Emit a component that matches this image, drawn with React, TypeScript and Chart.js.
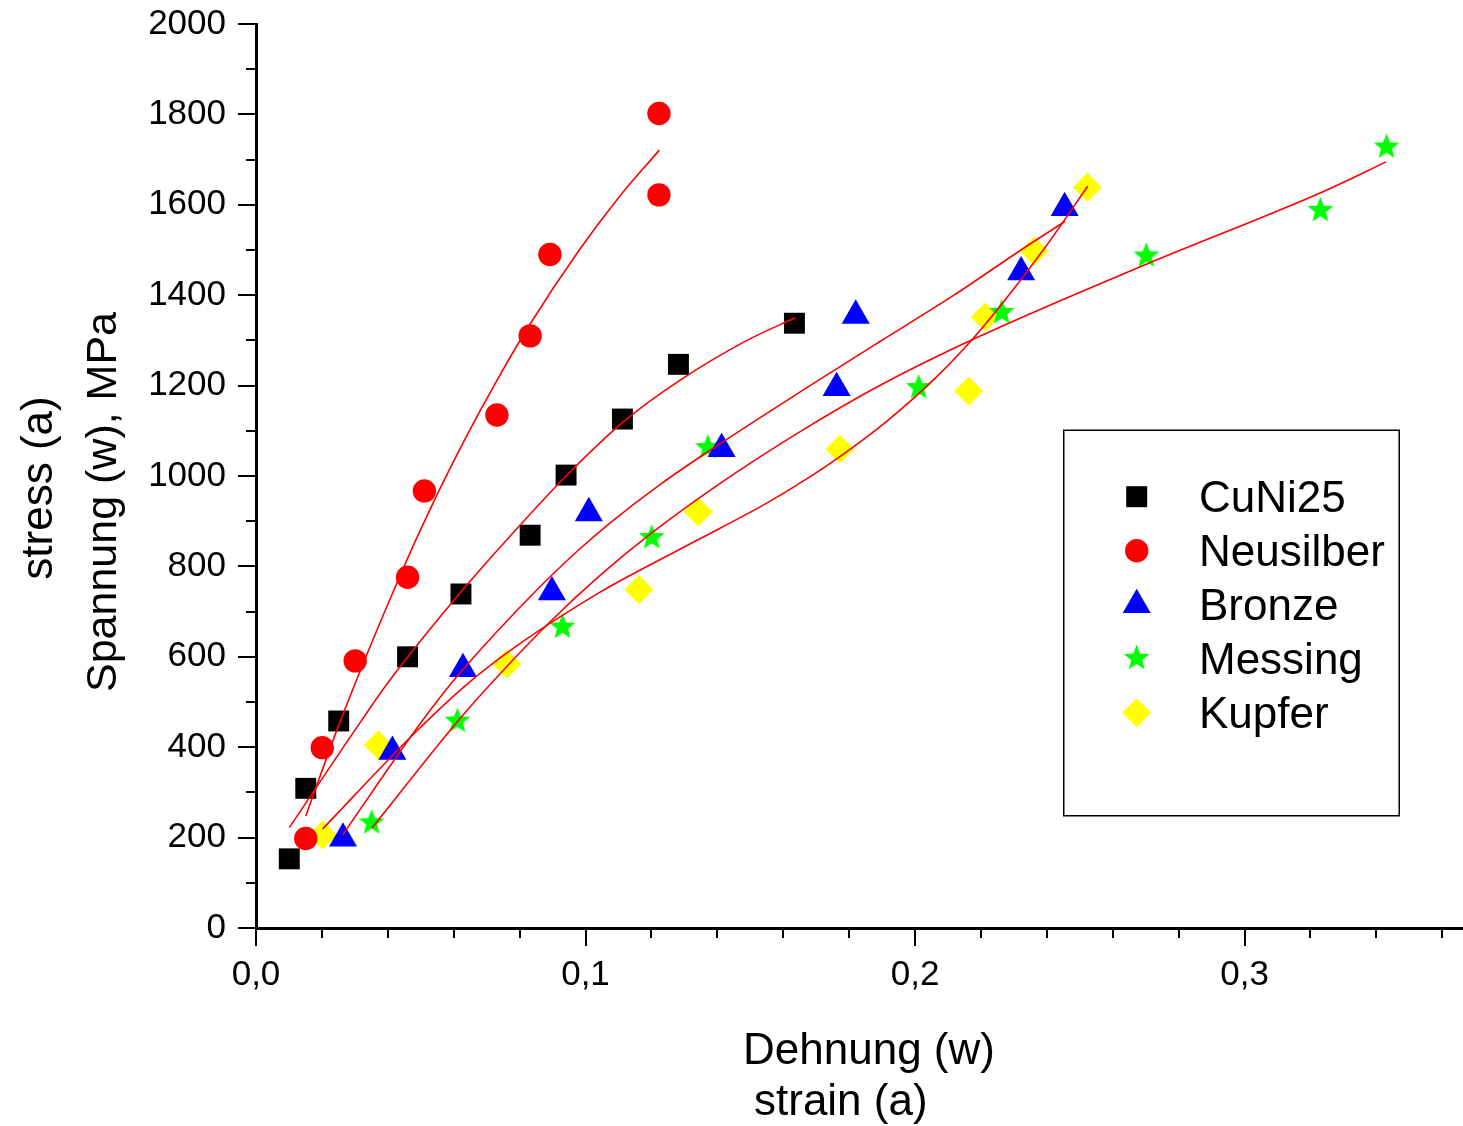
import React, { useEffect, useRef } from 'react';
import { Chart, registerables } from 'chart.js';

Chart.register(...registerables);

// ---------- measured data (strain, stress MPa) ----------
const cuni25Strain = [0.0101, 0.0151, 0.0251, 0.046, 0.0622, 0.0832, 0.0941, 0.1112, 0.1282, 0.1634];
const cuni25Stress = [153, 309, 458, 600, 739, 869, 1002, 1126, 1247, 1338];

const neusilberStrain = [0.0151, 0.0201, 0.0301, 0.046, 0.0511, 0.0731, 0.0832, 0.0892, 0.1223, 0.1223];
const neusilberStress = [198, 399, 591, 776, 967, 1135, 1310, 1490, 1622, 1802];

const bronzeStrain = [0.0264, 0.0414, 0.0628, 0.0898, 0.101, 0.1413, 0.1762, 0.182, 0.2322, 0.2454];
const bronzeStress = [198, 390, 573, 743, 918, 1060, 1195, 1355, 1451, 1593];

const messingStrain = [0.0351, 0.0611, 0.093, 0.1201, 0.1371, 0.2011, 0.2263, 0.2702, 0.323, 0.3431];
const messingStress = [235, 460, 668, 866, 1065, 1198, 1364, 1489, 1590, 1730];

const kupferStrain = [0.0202, 0.0371, 0.0761, 0.1162, 0.1342, 0.1772, 0.2163, 0.2213, 0.2362, 0.2523];
const kupferStress = [206, 405, 584, 749, 921, 1059, 1188, 1352, 1498, 1639];

// ---------- fit curves ----------
const cuni25FitStrain = [0.0101, 0.0321, 0.0407, 0.0619, 0.0775, 0.0941, 0.1112, 0.1287, 0.149, 0.1636];
const cuni25FitStress = [222, 460, 549, 741, 870, 1000, 1118, 1212, 1300, 1350];

const neusilberFitStrain = [0.0151, 0.0255, 0.0435, 0.0538, 0.0639, 0.073, 0.083, 0.098, 0.1105, 0.1224];
const neusilberFitStress = [248, 456, 776, 941, 1088, 1210, 1334, 1499, 1620, 1721];

const bronzeFitStrain = [0.0263, 0.0477, 0.0599, 0.0832, 0.0983, 0.1074, 0.1226, 0.1378, 0.1686, 0.189, 0.2118, 0.2342, 0.2455];
const bronzeFitStress = [206, 431, 547, 733, 839, 896, 981, 1057, 1202, 1296, 1400, 1510, 1563];

const messingFitStrain = [0.0352, 0.0614, 0.0726, 0.0892, 0.1044, 0.1201, 0.1403, 0.166, 0.189, 0.2196, 0.27, 0.3238, 0.343];
const messingFitStress = [221, 459, 551, 677, 780, 874, 981, 1102, 1199, 1309, 1468, 1629, 1695];

const kupferFitStrain = [0.0202, 0.0477, 0.064, 0.0791, 0.1044, 0.1135, 0.1347, 0.155, 0.167, 0.1772, 0.1914, 0.2066, 0.2196, 0.2398, 0.2524];
const kupferFitStress = [219, 428, 539, 624, 743, 780, 861, 940, 993, 1043, 1121, 1220, 1321, 1509, 1641];

const seriesNames = ['CuNi25', 'Neusilber', 'Bronze', 'Messing', 'Kupfer'];
const seriesColors = ['#000000', '#ff0000', '#0000ff', '#00ff00', '#ffff00'];

const xTickStep = 0.1;
const xMinorStep = 0.02;
const yTickStep = 200;
const yMinorStep = 100;
const xMax = 0.3663;
const yMax = 2000;

const xTitleLines = ['Dehnung (w)', 'strain (a)'];
const yTitleLines = ['stress (a)', 'Spannung (w), MPa'];

const FONT = "'Liberation Sans', Arial, sans-serif";

function pts(xs: number[], ys: number[]) {
  return xs.map((x, i) => ({ x, y: ys[i] }));
}

function drawStarPath(g: CanvasRenderingContext2D, cx: number, cy: number, outer: number, inner: number) {
  g.beginPath();
  for (let i = 0; i < 10; i++) {
    const r = i % 2 === 0 ? outer : inner;
    const a = -Math.PI / 2 + (i * Math.PI) / 5;
    const px = cx + r * Math.cos(a);
    const py = cy + r * Math.sin(a);
    if (i === 0) g.moveTo(px, py);
    else g.lineTo(px, py);
  }
  g.closePath();
}

function makeStar(outer: number, inner: number, color: string) {
  const c = document.createElement('canvas');
  const s = Math.ceil(outer * 2 + 2);
  c.width = s;
  c.height = s;
  const g = c.getContext('2d')!;
  drawStarPath(g, s / 2, s / 2 + 1, outer, inner);
  g.fillStyle = color;
  g.fill();
  return c;
}

function drawMarker(g: CanvasRenderingContext2D, kind: number, x: number, y: number, color: string) {
  g.fillStyle = color;
  g.beginPath();
  if (kind === 0) {
    g.rect(x - 10.5, y - 10.5, 21, 21);
  } else if (kind === 1) {
    g.arc(x, y, 11.7, 0, Math.PI * 2);
  } else if (kind === 2) {
    const r = 16.2;
    for (let i = 0; i < 3; i++) {
      const a = -Math.PI / 2 + (i * 2 * Math.PI) / 3;
      const px = x + r * Math.cos(a);
      const py = y + r * Math.sin(a);
      if (i === 0) g.moveTo(px, py);
      else g.lineTo(px, py);
    }
    g.closePath();
  } else if (kind === 3) {
    drawStarPath(g, x, y + 1, 13.5, 5.8);
  } else {
    g.moveTo(x, y - 14.5);
    g.lineTo(x + 14.5, y);
    g.lineTo(x, y + 14.5);
    g.lineTo(x - 14.5, y);
    g.closePath();
  }
  g.fill();
}

const axisPlugin = {
  id: 'originAxes',
  afterDraw(chart: any) {
    const g: CanvasRenderingContext2D = chart.ctx;
    const xs = chart.scales.x;
    const ys = chart.scales.y;
    const { left, bottom } = chart.chartArea;
    g.save();
    g.strokeStyle = '#000';
    g.lineWidth = 2;
    // x ticks
    const nX = Math.floor(xMax / xMinorStep + 1e-9);
    for (let i = 0; i <= nX; i++) {
      const v = i * xMinorStep;
      const major = i % Math.round(xTickStep / xMinorStep) === 0;
      const px = Math.round(xs.getPixelForValue(v));
      g.beginPath();
      g.moveTo(px, bottom);
      g.lineTo(px, bottom + (major ? 18 : 10));
      g.stroke();
    }
    // y ticks
    const nY = Math.round(yMax / yMinorStep);
    for (let i = 0; i <= nY; i++) {
      const v = i * yMinorStep;
      const major = i % Math.round(yTickStep / yMinorStep) === 0;
      const py = Math.round(ys.getPixelForValue(v));
      g.beginPath();
      g.moveTo(left, py);
      g.lineTo(left - (major ? 18 : 10), py);
      g.stroke();
    }
    // titles
    g.fillStyle = '#000';
    g.font = `44px ${FONT}`;
    g.textAlign = 'left';
    g.textBaseline = 'alphabetic';
    g.fillText(xTitleLines[0], 743, 1064);
    g.fillText(xTitleLines[1], 754, 1115);
    g.textAlign = 'center';
    g.save();
    g.translate(52, 488);
    g.rotate(-Math.PI / 2);
    g.fillText(yTitleLines[0], 0, 0);
    g.restore();
    g.save();
    g.translate(116, 502);
    g.rotate(-Math.PI / 2);
    g.font = `43px ${FONT}`;
    g.fillText(yTitleLines[1], 0, 0);
    g.restore();

    // legend
    g.lineWidth = 1.5;
    g.strokeStyle = '#000';
    g.strokeRect(1063.75, 430.25, 335.5, 385.5);
    const markerYs = [496.7, 550.7, 605, 657.3, 712.7];
    const baseYs = [512, 566, 620, 674, 728];
    g.font = `44px ${FONT}`;
    g.textAlign = 'left';
    for (let i = 0; i < seriesNames.length; i++) {
      drawMarker(g, i, 1136.7, markerYs[i], seriesColors[i]);
      g.fillStyle = '#000';
      g.fillText(seriesNames[i], 1199, baseYs[i]);
    }
    g.restore();
  },
};

export default function App() {
  const ref = useRef<HTMLCanvasElement | null>(null);

  useEffect(() => {
    if (!ref.current) return;
    const star = makeStar(13.5, 5.8, '#00ff00');

    const fit = (xs: number[], ys: number[], label: string) => ({
      type: 'line' as const,
      label,
      data: pts(xs, ys),
      showLine: true,
      borderColor: '#ff0000',
      borderWidth: 1.6,
      pointRadius: 0,
      fill: false,
      cubicInterpolationMode: 'monotone' as const,
      order: 0,
    });

    const marks = (xs: number[], ys: number[], label: string, color: string, style: any, radius: number) => ({
      type: 'scatter' as const,
      label,
      data: pts(xs, ys),
      showLine: false,
      pointStyle: style,
      pointRadius: radius,
      pointBackgroundColor: color,
      pointBorderColor: color,
      pointBorderWidth: 0,
      backgroundColor: color,
      borderColor: color,
      order: 1,
    });

    const chart = new Chart(ref.current, {
      type: 'scatter',
      data: {
        datasets: [
          fit(cuni25FitStrain, cuni25FitStress, 'CuNi25 fit'),
          fit(neusilberFitStrain, neusilberFitStress, 'Neusilber fit'),
          fit(bronzeFitStrain, bronzeFitStress, 'Bronze fit'),
          fit(messingFitStrain, messingFitStress, 'Messing fit'),
          fit(kupferFitStrain, kupferFitStress, 'Kupfer fit'),
          marks(cuni25Strain, cuni25Stress, seriesNames[0], seriesColors[0], 'rect', 14.8),
          marks(neusilberStrain, neusilberStress, seriesNames[1], seriesColors[1], 'circle', 11.7),
          marks(bronzeStrain, bronzeStress, seriesNames[2], seriesColors[2], 'triangle', 16.2),
          marks(messingStrain, messingStress, seriesNames[3], seriesColors[3], star, 13),
          marks(kupferStrain, kupferStress, seriesNames[4], seriesColors[4], 'rectRot', 14.5),
        ] as any,
      },
      options: {
        animation: false,
        responsive: false,
        maintainAspectRatio: false,
        devicePixelRatio: 1,
        layout: { autoPadding: false, padding: { left: 0, top: 24, right: 0, bottom: 0 } },
        plugins: {
          legend: { display: false },
          tooltip: { enabled: false },
        },
        scales: {
          x: {
            type: 'linear',
            position: 'bottom',
            min: 0,
            max: xMax,
            grid: { display: false, drawTicks: false },
            border: { display: true, color: '#000', width: 3 },
            ticks: {
              stepSize: xTickStep,
              includeBounds: false,
              padding: 26,
              color: '#000',
              maxRotation: 0,
              font: { family: FONT, size: 35 },
              callback: (v: any) => Number(v).toFixed(1).replace('.', ','),
            },
            afterFit: (s: any) => {
              s.height = 198;
              s.paddingLeft = 0;
              s.paddingRight = 0;
            },
          },
          y: {
            type: 'linear',
            position: 'left',
            min: 0,
            max: yMax,
            grid: { display: false, drawTicks: false },
            border: { display: true, color: '#000', width: 3 },
            ticks: {
              stepSize: yTickStep,
              includeBounds: false,
              padding: 30,
              color: '#000',
              font: { family: FONT, size: 35 },
              callback: (v: any) => String(Math.round(Number(v))),
            },
            afterFit: (s: any) => {
              s.width = 256;
              s.paddingTop = 0;
              s.paddingBottom = 0;
            },
          },
        },
      } as any,
      plugins: [axisPlugin],
    });
    return () => chart.destroy();
  }, []);

  return (
    <div style={{ position: 'absolute', left: 0, top: 0, width: 1463, height: 1126, background: '#fff' }}>
      <canvas ref={ref} width={1463} height={1126} style={{ display: 'block' }} />
    </div>
  );
}
